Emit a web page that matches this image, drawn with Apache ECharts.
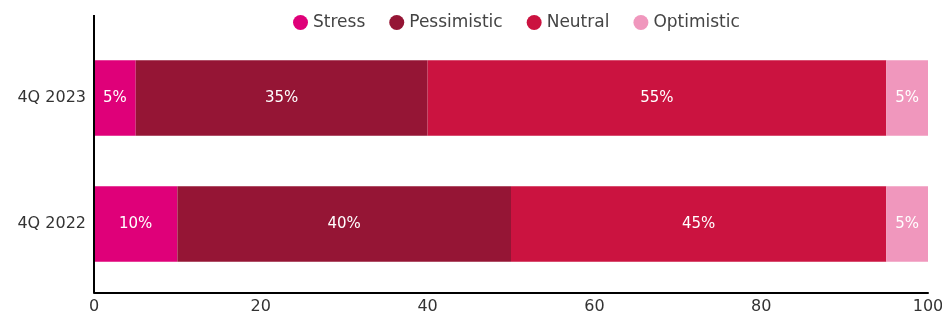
<!DOCTYPE html>
<html>
<head>
<meta charset="utf-8">
<script src="https://cdn.jsdelivr.net/npm/echarts@6/dist/echarts.min.js"></script>
<style>
  html, body { margin: 0; padding: 0; background: #fff; }
  #chart { width: 942px; height: 315px; }
</style>
</head>
<body>
<div id="chart"></div>
<script>
var categories = ['4Q 2022', '4Q 2023'];
var seriesNames = ['Stress', 'Pessimistic', 'Neutral', 'Optimistic'];
var stress = [10, 5];
var pessimistic = [40, 35];
var neutral = [45, 55];
var optimistic = [5, 5];
var xTicks = [0, 20, 40, 60, 80, 100];

var colors = ['#df0079', '#951535', '#cb1340', '#f097bd'];
var values = [stress, pessimistic, neutral, optimistic];
var font = 'DejaVu Sans';

var chart = echarts.init(document.getElementById('chart'));

var series = seriesNames.map(function (name, i) {
    return {
        name: name,
        type: 'bar',
        stack: 'total',
        barWidth: '60%',
        data: values[i],
        itemStyle: { color: colors[i] },
        label: {
            show: true,
            position: 'inside',
            color: '#fff',
            fontFamily: font,
            fontSize: 15,
            formatter: '{c}%'
        }
    };
});

var option = {
    animation: false,
    color: colors,
    legend: {
        data: seriesNames,
        top: 9,
        left: 288,
        icon: 'circle',
        itemWidth: 15,
        itemHeight: 15,
        itemGap: 24,
        textStyle: { fontFamily: font, fontSize: 17, color: '#444' }
    },
    grid: { left: 94, right: 14, top: 35, bottom: 28, outerBoundsMode: 'none' },
    xAxis: {
        type: 'value',
        min: xTicks[0],
        max: xTicks[xTicks.length - 1],
        interval: 20,
        offset: 6,
        splitLine: { show: false },
        axisLine: { show: true, lineStyle: { color: '#000', width: 2 } },
        axisTick: { show: false },
        axisLabel: { fontFamily: font, fontSize: 16, color: '#333', margin: 6 }
    },
    yAxis: {
        type: 'category',
        data: categories,
        axisLine: { show: true, lineStyle: { color: '#000', width: 2 } },
        axisTick: { show: false },
        axisLabel: { fontFamily: font, fontSize: 16, color: '#333', margin: 8 }
    },
    graphic: [{
        type: 'line',
        shape: { x1: 94, y1: 15, x2: 94, y2: 293 },
        style: { stroke: '#000', lineWidth: 2 },
        z: 10
    }],
    series: series
};

chart.setOption(option);
</script>
</body>
</html>
